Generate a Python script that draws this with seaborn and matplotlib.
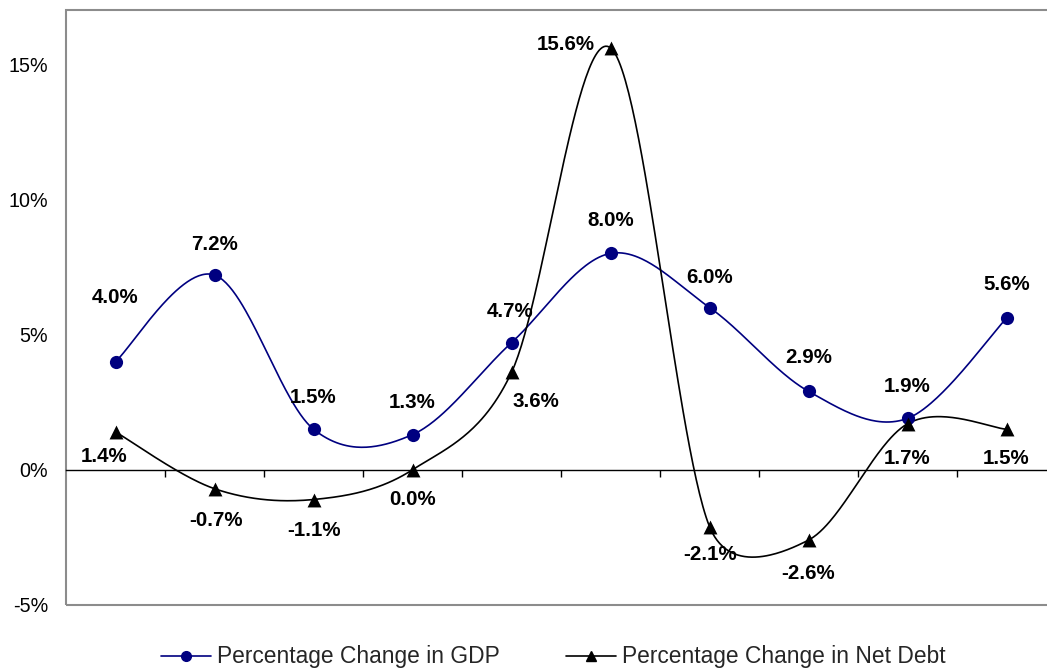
import numpy as np
import pandas as pd
import matplotlib
matplotlib.use("Agg")
import matplotlib.pyplot as plt
import seaborn as sns
from matplotlib.patches import Rectangle

# Annual percentage changes (ten periods, unlabeled on the x axis)
periods = list(range(10))
gdp_change = [4.0, 7.2, 1.5, 1.3, 4.7, 8.0, 6.0, 2.9, 1.9, 5.6]
debt_change = [1.4, -0.7, -1.1, 0.0, 3.6, 15.6, -2.1, -2.6, 1.7, 1.5]
y_ticks = [-5, 0, 5, 10, 15]
series_names = ["Percentage Change in GDP", "Percentage Change in Net Debt"]

# Label placement offsets in pixels (dx, dy up)
gdp_label_offsets = [(0, 64), (0, 31), (0, 32), (0, 32), (-1, 31),
                     (0, 33), (0, 30), (0, 34), (0, 32), (0, 34)]
debt_label_offsets = [(-11, -25), (1, -32), (1, -31), (0, -30), (24, -29),
                      (-45, 3), (1, -28), (0, -33), (0, -35), (0, -29)]

# Screen scale used by the smoothing (pixels per x unit / per percent)
PX_X, PX_Y = 99.0, 27.05


def smooth_curve(xs, ys, steps=60):
    """Spreadsheet-style smoothed line: cubic Bezier segments whose handles are
    1/6 of the neighbour chord, capped at half the segment length (screen space)."""
    pts = np.column_stack([np.asarray(xs, float) * PX_X, np.asarray(ys, float) * PX_Y])
    n = len(pts)
    out = []
    f = 1.0 / 6.0
    for i in range(n - 1):
        p0 = pts[max(i - 1, 0)]
        p1 = pts[i]
        p2 = pts[i + 1]
        p3 = pts[min(i + 2, n - 1)]
        d12 = np.linalg.norm(p2 - p1)
        d02 = np.linalg.norm(p2 - p0)
        d13 = np.linalg.norm(p3 - p1)
        if d02 * f > d12 / 2 and d02 > 0:
            b1 = p1 + (p2 - p0) * (d12 / 2 / d02)
        else:
            b1 = p1 + (p2 - p0) * f
        if d13 * f > d12 / 2 and d13 > 0:
            b2 = p2 - (p3 - p1) * (d12 / 2 / d13)
        else:
            b2 = p2 - (p3 - p1) * f
        t = np.linspace(0, 1, steps, endpoint=(i == n - 2))[:, None]
        seg = ((1 - t) ** 3) * p1 + 3 * ((1 - t) ** 2) * t * b1 + 3 * (1 - t) * t ** 2 * b2 + t ** 3 * p2
        out.append(seg)
    out = np.vstack(out)
    return out[:, 0] / PX_X, out[:, 1] / PX_Y


sns.set_theme(style="white")
plt.rcParams["font.family"] = ["Liberation Sans", "DejaVu Sans"]

fig = plt.figure(figsize=(10.47, 6.70), dpi=100)
ax = fig.add_axes([66 / 1047, 1 - 605 / 670, 990 / 1047, 595 / 670])

styles = [
    dict(color="#000080", marker="o", ms=9.5, lw=1.2, lms=7),
    dict(color="#000000", marker="^", ms=10, lw=1.2, lms=7.5),
]
handles = []
for vals, st, name in zip([gdp_change, debt_change], styles, series_names):
    sx, sy = smooth_curve(periods, vals)
    curve = pd.DataFrame({"x": sx, "y": sy})
    sns.lineplot(data=curve, x="x", y="y", ax=ax, color=st["color"], lw=st["lw"],
                 sort=False, estimator=None, zorder=3)
    pts = pd.DataFrame({"x": periods, "y": vals})
    sns.scatterplot(data=pts, x="x", y="y", ax=ax, color=st["color"], marker=st["marker"],
                    s=st["ms"] ** 2, edgecolor=st["color"], linewidth=0, zorder=4)
    handles.append(plt.Line2D([], [], color=st["color"], lw=st["lw"], marker=st["marker"],
                              markersize=st["lms"], label=name))

label_font = dict(fontsize=14.8, fontweight="bold", color="black", ha="center", va="center")
for vals, offs in [(gdp_change, gdp_label_offsets), (debt_change, debt_label_offsets)]:
    for x, v, (dx, dy) in zip(periods, vals, offs):
        ax.annotate(f"{v:.1f}%", (x, v), xytext=(dx * 0.72, dy * 0.72),
                    textcoords="offset points", zorder=5, **label_font)

ax.set_xlim(-0.5, 9.5)
ax.set_ylim(-5, 17)
ax.set_yticks(y_ticks)
ax.set_yticklabels([f"{t}%" for t in y_ticks])
ax.tick_params(axis="y", length=0, pad=13, labelsize=14.2, labelcolor="black")
ax.set_xlabel("")
ax.set_ylabel("")

# Category axis crosses at zero, with ticks between categories
ax.set_xticks([p + 0.5 for p in periods])
ax.set_xticklabels([])
ax.spines["bottom"].set_position(("data", 0))
ax.spines["bottom"].set_color("black")
ax.spines["bottom"].set_linewidth(1.0)
ax.spines["bottom"].set_zorder(2)
ax.tick_params(axis="x", direction="out", length=5, width=1, color="black", bottom=True)
for side in ["left", "top", "right"]:
    ax.spines[side].set_visible(False)

# Plot area border
ax.add_patch(Rectangle((0, 0), 1, 1, transform=ax.transAxes, fill=False,
                       edgecolor="#8c8c8c", lw=1.5, clip_on=False, zorder=1))

fig.legend(handles=handles, loc="center", bbox_to_anchor=(553 / 1047, 1 - 657 / 670),
           ncol=2, frameon=False, fontsize=16.4, handlelength=2.2, handletextpad=0.27,
           columnspacing=2.9)

fig.savefig("out.png", dpi=100, facecolor="white")
